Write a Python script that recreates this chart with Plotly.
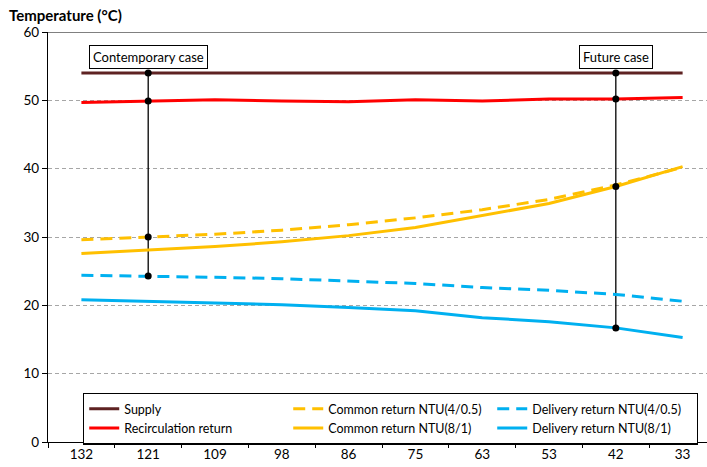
import plotly.graph_objects as go

categories = ["132", "121", "109", "98", "86", "75", "63", "53", "42", "33"]
supply = [54.0, 54.0, 54.0, 54.0, 54.0, 54.0, 54.0, 54.0, 54.0, 54.0]
recirculation = [49.7, 49.9, 50.1, 49.9, 49.8, 50.1, 49.9, 50.2, 50.2, 50.4]
common_4_05 = [29.6, 30.0, 30.4, 31.0, 31.8, 32.8, 34.0, 35.5, 37.6, 40.2]
common_8_1 = [27.6, 28.1, 28.6, 29.3, 30.2, 31.4, 33.1, 34.9, 37.4, 40.3]
delivery_4_05 = [24.4, 24.3, 24.1, 23.9, 23.6, 23.2, 22.6, 22.2, 21.6, 20.6]
delivery_8_1 = [20.8, 20.6, 20.4, 20.1, 19.7, 19.2, 18.2, 17.6, 16.7, 15.3]
y_ticks = [0, 10, 20, 30, 40, 50, 60]

contemporary_idx = 1
future_idx = 8

FONT = "Lato"
fig = go.Figure()

cx = categories[contemporary_idx]
fx = categories[future_idx]
fig.add_trace(go.Scatter(
    x=[cx] * 4,
    y=[supply[contemporary_idx], recirculation[contemporary_idx],
       common_4_05[contemporary_idx], delivery_4_05[contemporary_idx]],
    mode="lines", line=dict(color="black", width=1.3),
    showlegend=False, hoverinfo="skip"))
fig.add_trace(go.Scatter(
    x=[fx] * 4,
    y=[supply[future_idx], recirculation[future_idx],
       common_8_1[future_idx], delivery_8_1[future_idx]],
    mode="lines", line=dict(color="black", width=1.3),
    showlegend=False, hoverinfo="skip"))

dash = "12px,7px"
series = [
    ("Supply", supply, "#5E2222", "solid"),
    ("Common return NTU(4/0.5)", common_4_05, "#FFC000", dash),
    ("Delivery return NTU(4/0.5)", delivery_4_05, "#00B0F0", dash),
    ("Recirculation return", recirculation, "#FF0000", "solid"),
    ("Common return NTU(8/1)", common_8_1, "#FFC000", "solid"),
    ("Delivery return NTU(8/1)", delivery_8_1, "#00B0F0", "solid"),
]
for name, vals, color, d in series:
    fig.add_trace(go.Scatter(x=categories, y=vals, mode="lines", name=name,
                             line=dict(color=color, width=3, dash=d)))

for idx, ys in [(contemporary_idx, [supply, recirculation, common_4_05, delivery_4_05]),
                (future_idx, [supply, recirculation, common_8_1, delivery_8_1])]:
    fig.add_trace(go.Scatter(x=[categories[idx]] * 4, y=[s[idx] for s in ys],
                             mode="markers", marker=dict(color="black", size=7),
                             showlegend=False, hoverinfo="skip"))

fig.add_shape(type="line", xref="paper", yref="y", x0=0, x1=1, y0=60, y1=60,
              line=dict(color="#808080", width=2), layer="below")

fig.add_annotation(xref="x", yref="y", x=contemporary_idx, y=56.3,
                   text="Contemporary case", showarrow=False,
                   font=dict(family=FONT, size=13, color="black"),
                   bgcolor="white", bordercolor="black", borderwidth=1, borderpad=3)
fig.add_annotation(xref="x", yref="y", x=future_idx, y=56.4,
                   text="Future case", showarrow=False,
                   font=dict(family=FONT, size=13, color="black"),
                   bgcolor="white", bordercolor="black", borderwidth=1, borderpad=3)
fig.add_annotation(xref="paper", yref="paper", x=-0.062, y=1.042, xanchor="left",
                   yanchor="middle", text="<b>Temperature (°C)</b>", showarrow=False,
                   font=dict(family=FONT, size=15, color="black"))

fig.update_layout(
    width=707, height=467,
    margin=dict(l=48, r=0, t=32, b=25),
    plot_bgcolor="white", paper_bgcolor="white",
    font=dict(family=FONT, size=13, color="black"),
    showlegend=True,
    legend=dict(orientation="h", x=0.053, y=0.12, xanchor="left", yanchor="top",
                bgcolor="white", bordercolor="black", borderwidth=1.3,
                entrywidth=159, entrywidthmode="pixels", tracegroupgap=0,
                font=dict(family=FONT, size=12.5, color="black"),
                itemwidth=30),
    xaxis=dict(type="category", categoryorder="array", categoryarray=categories,
               range=[-0.5, 9.365], showgrid=False, showline=True,
               linecolor="black", linewidth=1.3, ticks="outside",
               tickson="boundaries", ticklen=5, tickcolor="black",
               tickfont=dict(family=FONT, size=13.5)),
    yaxis=dict(range=[0, 60], tickvals=y_ticks, showgrid=True,
               gridcolor="#A6A6A6", griddash="4px,3px", gridwidth=1,
               showline=True, linecolor="black", linewidth=1.3,
               ticks="outside", ticklen=5, tickcolor="black",
               zeroline=False, tickfont=dict(family=FONT, size=13.5)),
)

fig.write_html("out.html")
